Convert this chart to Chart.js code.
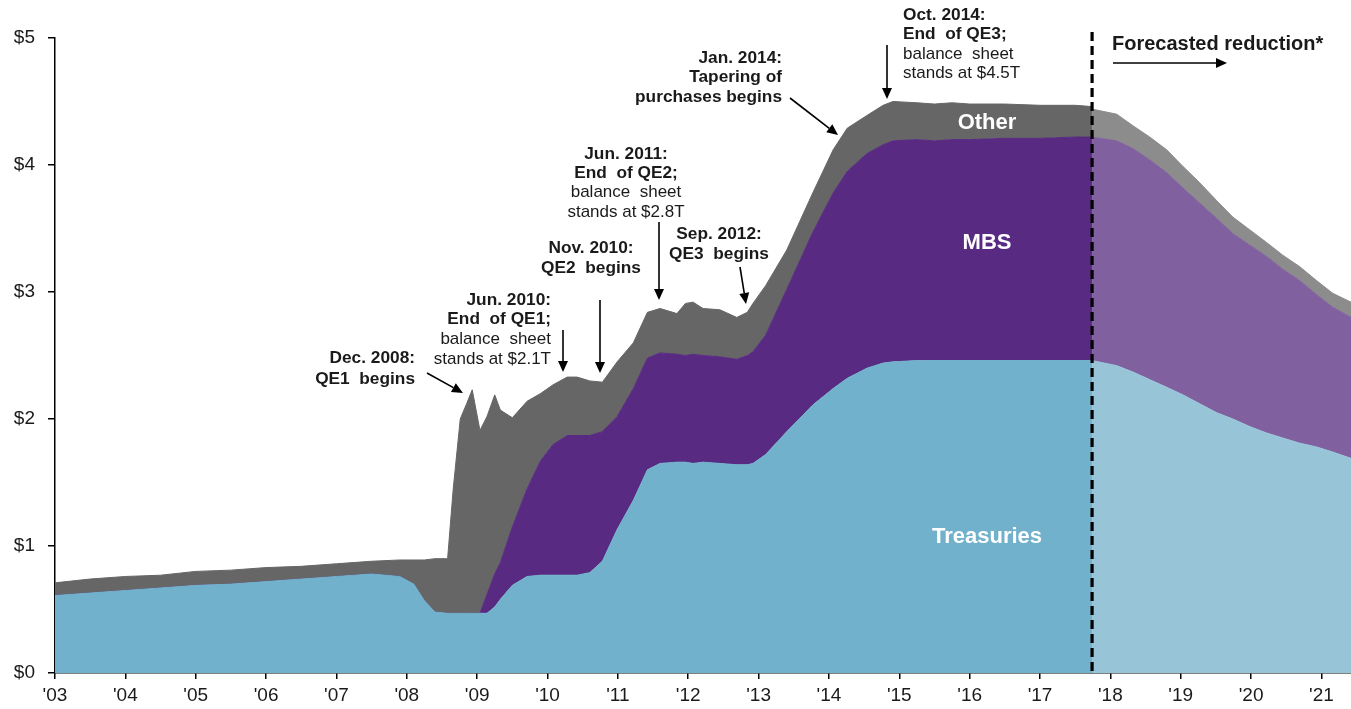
<!DOCTYPE html>
<html>
<head>
<meta charset="utf-8">
<script src="https://cdn.jsdelivr.net/npm/chart.js@4.4.1/dist/chart.umd.min.js"></script>
<style>
  html, body { margin: 0; padding: 0; background: #fff; }
  #wrap { width: 1351px; height: 709px; }
</style>
</head>
<body>
<div id="wrap"><canvas id="fedChart" width="1351" height="709"></canvas></div>
<script>
// Fed balance sheet, $ trillions
const histYears = [2003.00, 2003.50, 2004.00, 2004.50, 2005.00, 2005.50, 2006.00, 2006.50, 2007.00, 2007.50,
  2007.90, 2008.10, 2008.25, 2008.40, 2008.58, 2008.66, 2008.76, 2008.85, 2008.93, 2009.04,
  2009.14, 2009.25, 2009.33, 2009.50, 2009.71, 2009.90, 2010.08, 2010.28, 2010.42, 2010.60,
  2010.78, 2010.99, 2011.22, 2011.42, 2011.60, 2011.84, 2011.96, 2012.07, 2012.21, 2012.45,
  2012.69, 2012.84, 2012.92, 2013.10, 2013.40, 2013.77, 2014.06, 2014.26, 2014.54, 2014.77,
  2014.91, 2015.25, 2015.50, 2015.75, 2016.00, 2016.50, 2017.00, 2017.50, 2017.74];
const histTreasuries = [0.61, 0.63, 0.65, 0.67, 0.69, 0.70, 0.72, 0.74, 0.76, 0.78,
  0.76, 0.70, 0.57, 0.48, 0.47, 0.47, 0.47, 0.47, 0.47, 0.47,
  0.47, 0.52, 0.58, 0.69, 0.76, 0.77, 0.77, 0.77, 0.77, 0.79,
  0.88, 1.13, 1.36, 1.60, 1.65, 1.66, 1.66, 1.65, 1.66, 1.65,
  1.64, 1.64, 1.65, 1.72, 1.90, 2.11, 2.24, 2.32, 2.40, 2.44,
  2.45, 2.46, 2.46, 2.46, 2.46, 2.46, 2.46, 2.46, 2.46];
const histMbs = [0, 0, 0, 0, 0, 0, 0, 0, 0, 0,
  0, 0, 0, 0, 0, 0, 0, 0, 0, 0,
  0.15, 0.26, 0.29, 0.46, 0.69, 0.90, 1.03, 1.10, 1.10, 1.08,
  1.02, 0.89, 0.88, 0.88, 0.87, 0.85, 0.84, 0.86, 0.84, 0.84,
  0.83, 0.86, 0.88, 0.94, 1.12, 1.36, 1.54, 1.63, 1.69, 1.72,
  1.74, 1.74, 1.73, 1.74, 1.74, 1.75, 1.75, 1.76, 1.76];
const histOther = [0.10, 0.11, 0.11, 0.10, 0.11, 0.11, 0.11, 0.10, 0.10, 0.10,
  0.13, 0.19, 0.32, 0.42, 0.43, 0.98, 1.53, 1.65, 1.76, 1.44,
  1.40, 1.41, 1.20, 0.86, 0.69, 0.53, 0.47, 0.46, 0.46, 0.43,
  0.39, 0.43, 0.36, 0.36, 0.35, 0.32, 0.41, 0.41, 0.37, 0.37,
  0.33, 0.34, 0.38, 0.39, 0.31, 0.31, 0.34, 0.34, 0.30, 0.31,
  0.31, 0.29, 0.29, 0.29, 0.28, 0.27, 0.26, 0.25, 0.24];

const fcYears = [2017.74, 2018.09, 2018.32, 2018.56, 2018.80, 2019.03, 2019.27, 2019.51,
  2019.74, 2019.98, 2020.22, 2020.45, 2020.69, 2020.93, 2021.16, 2021.42];
const fcTreasuries = [2.46, 2.42, 2.37, 2.31, 2.25, 2.19, 2.12, 2.05, 2.00, 1.94, 1.89, 1.85, 1.81, 1.78, 1.74, 1.69];
const fcMbs = [1.76, 1.77, 1.76, 1.73, 1.69, 1.63, 1.58, 1.53, 1.46, 1.43, 1.39, 1.33, 1.28, 1.20, 1.14, 1.11];
const fcOther = [0.22, 0.21, 0.18, 0.18, 0.18, 0.17, 0.16, 0.14, 0.13, 0.12, 0.11, 0.11, 0.11, 0.11, 0.11, 0.12];

const forecastStart = 2017.74;
const xTickYears = [2003, 2004, 2005, 2006, 2007, 2008, 2009, 2010, 2011, 2012, 2013, 2014, 2015, 2016, 2017, 2018, 2019, 2020, 2021];
const xTickLabels = ["'03", "'04", "'05", "'06", "'07", "'08", "'09", "'10", "'11", "'12", "'13", "'14", "'15", "'16", "'17", "'18", "'19", "'20", "'21"];
const yTickLabels = ['$0', '$1', '$2', '$3', '$4', '$5'];

const FONT = '"Liberation Sans", Arial, sans-serif';

function pts(xs, ys) {
  return xs.map((x, i) => ({ x: x, y: ys[i] }));
}

function area(label, xs, ys, color, stack, fill) {
  return {
    label: label,
    data: pts(xs, ys),
    stack: stack,
    fill: fill,
    backgroundColor: color,
    borderColor: color,
    borderWidth: 1,
    pointRadius: 0,
    tension: 0
  };
}

// arrow with filled head
function arrow(ctx, x1, y1, x2, y2) {
  const ang = Math.atan2(y2 - y1, x2 - x1);
  const len = 11, half = 5;
  ctx.save();
  ctx.strokeStyle = '#000';
  ctx.fillStyle = '#000';
  ctx.lineWidth = 1.6;
  ctx.beginPath();
  ctx.moveTo(x1, y1);
  ctx.lineTo(x2 - Math.cos(ang) * len, y2 - Math.sin(ang) * len);
  ctx.stroke();
  ctx.beginPath();
  ctx.moveTo(x2, y2);
  ctx.lineTo(x2 - Math.cos(ang) * len - Math.sin(ang) * half, y2 - Math.sin(ang) * len + Math.cos(ang) * half);
  ctx.lineTo(x2 - Math.cos(ang) * len + Math.sin(ang) * half, y2 - Math.sin(ang) * len - Math.cos(ang) * half);
  ctx.closePath();
  ctx.fill();
  ctx.restore();
}

// lines: [text, bold]
function note(ctx, lines, x, y, align, lh) {
  ctx.save();
  ctx.fillStyle = '#1a1a1a';
  ctx.textAlign = align;
  ctx.textBaseline = 'middle';
  lines.forEach((l, i) => {
    ctx.font = (l[1] ? 'bold 17.3px ' : '17px ') + FONT;
    ctx.fillText(l[0], x, y + i * lh);
  });
  ctx.restore();
}

const overlay = {
  id: 'overlay',
  afterDatasetsDraw(chart) {
    const ctx = chart.ctx;
    const xs = chart.scales.x, ys = chart.scales.y;

    // forecast divider
    const dx = xs.getPixelForValue(forecastStart);
    ctx.save();
    ctx.strokeStyle = '#000';
    ctx.lineWidth = 3.2;
    ctx.setLineDash([9, 5]);
    ctx.beginPath();
    ctx.moveTo(dx, 32);
    ctx.lineTo(dx, ys.bottom);
    ctx.stroke();
    ctx.restore();

    // series labels inside the areas
    ctx.save();
    ctx.fillStyle = '#fff';
    ctx.textAlign = 'center';
    ctx.textBaseline = 'middle';
    ctx.font = 'bold 22px ' + FONT;
    ctx.fillText('Other', 987, 123);
    ctx.fillText('MBS', 987, 243);
    ctx.fillText('Treasuries', 987, 537);
    ctx.restore();

    // annotations
    note(ctx, [['Dec. 2008:', 1], ['QE1  begins', 1]], 415, 358, 'right', 21);
    arrow(ctx, 427, 373, 463, 393);

    note(ctx, [['Jun. 2010:', 1], ['End  of QE1;', 1], ['balance  sheet', 0], ['stands at $2.1T', 0]], 551, 300, 'right', 19.7);
    arrow(ctx, 563, 330, 563, 372);

    note(ctx, [['Nov. 2010:', 1], ['QE2  begins', 1]], 591, 248, 'center', 20);
    arrow(ctx, 600, 300, 600, 373);

    note(ctx, [['Jun. 2011:', 1], ['End  of QE2;', 1], ['balance  sheet', 0], ['stands at $2.8T', 0]], 626, 154, 'center', 19.3);
    arrow(ctx, 659, 222, 659, 300);

    note(ctx, [['Sep. 2012:', 1], ['QE3  begins', 1]], 719, 234, 'center', 20);
    arrow(ctx, 740, 267, 746, 304);

    note(ctx, [['Jan. 2014:', 1], ['Tapering of', 1], ['purchases begins', 1]], 782, 58, 'right', 19.5);
    arrow(ctx, 790, 98, 838, 135);

    note(ctx, [['Oct. 2014:', 1], ['End  of QE3;', 1], ['balance  sheet', 0], ['stands at $4.5T', 0]], 903, 15, 'left', 19.5);
    arrow(ctx, 887, 45, 887, 99);

    ctx.save();
    ctx.fillStyle = '#1a1a1a';
    ctx.textAlign = 'left';
    ctx.textBaseline = 'middle';
    ctx.font = 'bold 20px ' + FONT;
    ctx.fillText('Forecasted reduction*', 1112, 44);
    ctx.restore();
    arrow(ctx, 1113, 63, 1227, 63);
  }
};

new Chart(document.getElementById('fedChart'), {
  type: 'line',
  data: {
    datasets: [
      area('Treasuries', histYears, histTreasuries, '#72b1cb', 'hist', 'origin'),
      area('MBS', histYears, histMbs, '#582a82', 'hist', '-1'),
      area('Other', histYears, histOther, '#666666', 'hist', '-1'),
      area('Treasuries (forecast)', fcYears, fcTreasuries, '#97c4d7', 'fc', 'origin'),
      area('MBS (forecast)', fcYears, fcMbs, '#8160a0', 'fc', '-1'),
      area('Other (forecast)', fcYears, fcOther, '#8c8c8c', 'fc', '-1')
    ]
  },
  options: {
    responsive: false,
    animation: false,
    layout: { padding: { top: 38, right: 0, left: 0, bottom: 0 } },
    plugins: { legend: { display: false }, tooltip: { enabled: false } },
    scales: {
      x: {
        type: 'linear',
        min: 2003,
        max: 2021.42,
        afterBuildTicks: s => { s.ticks = xTickYears.map(v => ({ value: v })); },
        afterFit: s => { s.height = 36; },
        ticks: {
          autoSkip: false,
          maxRotation: 0,
          padding: 5,
          color: '#1a1a1a',
          font: { family: FONT, size: 19 },
          callback: v => xTickLabels[xTickYears.indexOf(v)]
        },
        grid: { display: true, drawOnChartArea: false, drawTicks: true, tickLength: 6, color: '#000', lineWidth: 1.5 },
        border: { display: true, color: '#000', width: 1.5 }
      },
      y: {
        stacked: true,
        min: 0,
        max: 5,
        afterFit: s => { s.width = 55; },
        ticks: {
          stepSize: 1,
          padding: 13,
          color: '#1a1a1a',
          font: { family: FONT, size: 19 },
          callback: v => yTickLabels[v]
        },
        grid: { display: true, drawOnChartArea: false, drawTicks: true, tickLength: 7, color: '#000', lineWidth: 1.5 },
        border: { display: true, color: '#000', width: 1.5 }
      }
    }
  },
  plugins: [overlay]
});
</script>
</body>
</html>
